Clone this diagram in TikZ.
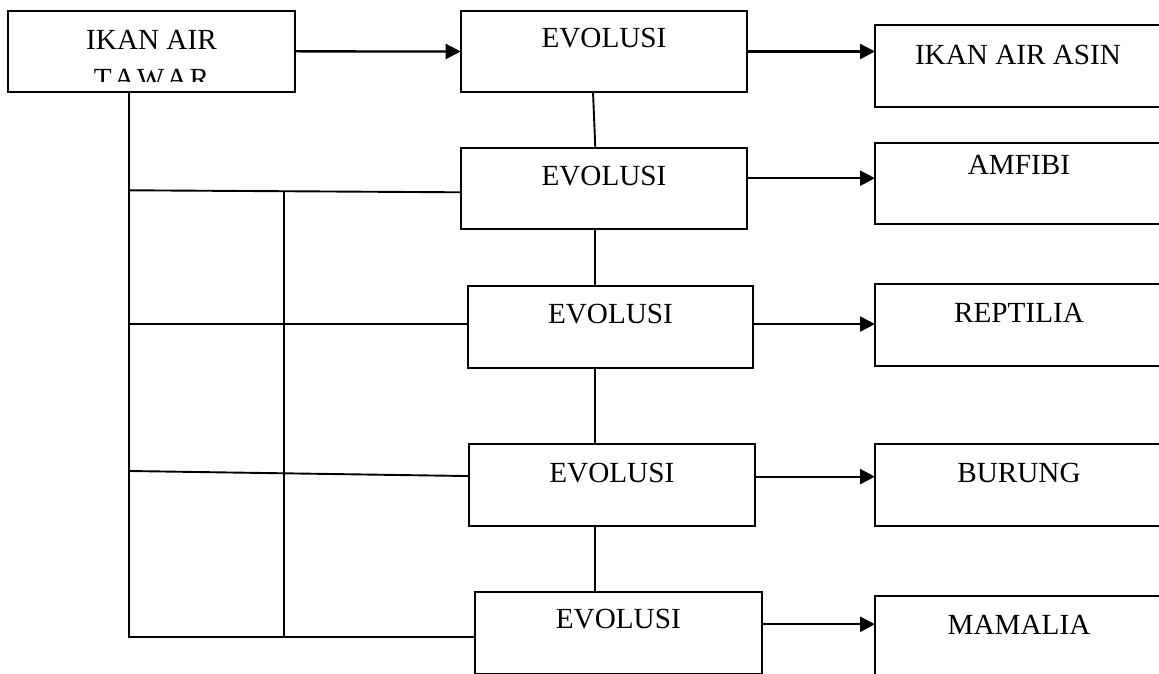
\documentclass[tikz,border=0pt]{standalone}
\usepackage{fontspec}
\setmainfont{Liberation Serif}
\usetikzlibrary{arrows.meta,calc}
\begin{document}
\begin{tikzpicture}[x=0.5pt,y=-0.5pt,
  box/.style n args={2}{draw, line width=1pt, inner sep=0pt, outer sep=0pt,
    anchor=north west, minimum width=#1*0.5pt, minimum height=#2*0.5pt},
  txt/.style={font=\fontsize{14.6}{17}\selectfont, inner sep=0pt, anchor=base},
  link/.style={line width=0.95pt},
  arr/.style={line width=1.15pt, -{Triangle[length=7.5pt,width=7.5pt]}}]
\useasboundingbox (0,0) rectangle (1159,673);
\clip (0,0) rectangle (1159,673);

% boxes
\node[box={287}{81.3}] (A) at (8,10.7) {};
\node[box={286.6}{81}] (E1) at (460.7,11) {};
\node[box={286.6}{81}] (E2) at (460.7,147.7) {};
\node[box={285.6}{81.7}] (E3) at (467.7,286) {};
\node[box={286.3}{81.7}] (E4) at (468.7,444) {};
\node[box={286.7}{82.3}] (E5) at (475,591.7) {};
\node[box={288}{81.7}] (R1) at (875,25) {};
\node[box={288}{81.6}] (R2) at (875,142.7) {};
\node[box={288}{81.7}] (R3) at (875,284) {};
\node[box={288}{81.4}] (R4) at (875,444.3) {};
\node[box={288}{82}] (R5) at (875,595.7) {};

% labels
\begin{scope}
  \clip (8,10.7) rectangle (295,81.7);
  \node[txt] (A1) at (151.5,49.3) {IKAN AIR};
  \node[txt] (A2) at (151.5,88.3) {T\kern1pt A\kern1pt W\kern1pt A\kern1pt R};
\end{scope}
\node[txt] (E1t) at (604,47.7) {EVOLUSI};
\node[txt] (E2t) at (604,185.5) {EVOLUSI};
\node[txt] (E3t) at (610.5,323.3) {EVOLUSI};
\node[txt] (E4t) at (611.8,482.7) {EVOLUSI};
\node[txt] (E5t) at (618.3,628.3) {EVOLUSI};
\node[txt] (R1t) at (1018,65) {IKAN AIR ASIN};
\node[txt] (R2t) at (1019,175) {AMFIBI};
\node[txt] (R3t) at (1019,322) {REPTILIA};
\node[txt] (R4t) at (1019,482.7) {BURUNG};
\node[txt] (R5t) at (1019,634) {MAMALIA};

% trunk and branches on the left
\coordinate (t0) at ([xshift=-11.1pt]A.south);
\coordinate (bot) at (129.3,637);
\coordinate (b2) at (129.3,190.3);
\coordinate (b3) at (129.3,323.7);
\coordinate (b4) at (129.3,471);
\coordinate (v2) at (283.7,191.2);
\draw[link] (t0) -- (bot) -- (bot -| E5.west);
\draw[link] (b2) -- ([yshift=-2.05pt]E2.west);
\draw[link] (b3) -- (b3 -| E3.west);
\draw[link] (b4) -- ([yshift=4.4pt]E4.west);
\draw[link] (v2) -- (v2 |- bot);

% vertical links between the evolution steps
\coordinate (c1) at (593,0);
\coordinate (col) at (595.3,0);
\draw[link] (E1.south -| c1) -- (E2.north -| col);
\draw[link] (E2.south -| col) -- (E3.north -| col);
\draw[link] (E3.south -| col) -- (E4.north -| col);
\draw[link] (E4.south -| col) -- (E5.north -| col);

% arrows
\draw[arr] (A.east) -- (E1.west);
\coordinate (o1) at (E1.east);
\coordinate (o2) at ([yshift=5pt]E2.east);
\coordinate (o3) at ([yshift=1.4pt]E3.east);
\coordinate (o4) at ([yshift=4.1pt]E4.east);
\coordinate (o5) at ([yshift=4.3pt]E5.east);
\draw[arr] (o1) -- (o1 -| R1.west);
\draw[arr] (o2) -- (o2 -| R2.west);
\draw[arr] (o3) -- (o3 -| R3.west);
\draw[arr] (o4) -- (o4 -| R4.west);
\draw[arr] (o5) -- (o5 -| R5.west);
\end{tikzpicture}
\end{document}
